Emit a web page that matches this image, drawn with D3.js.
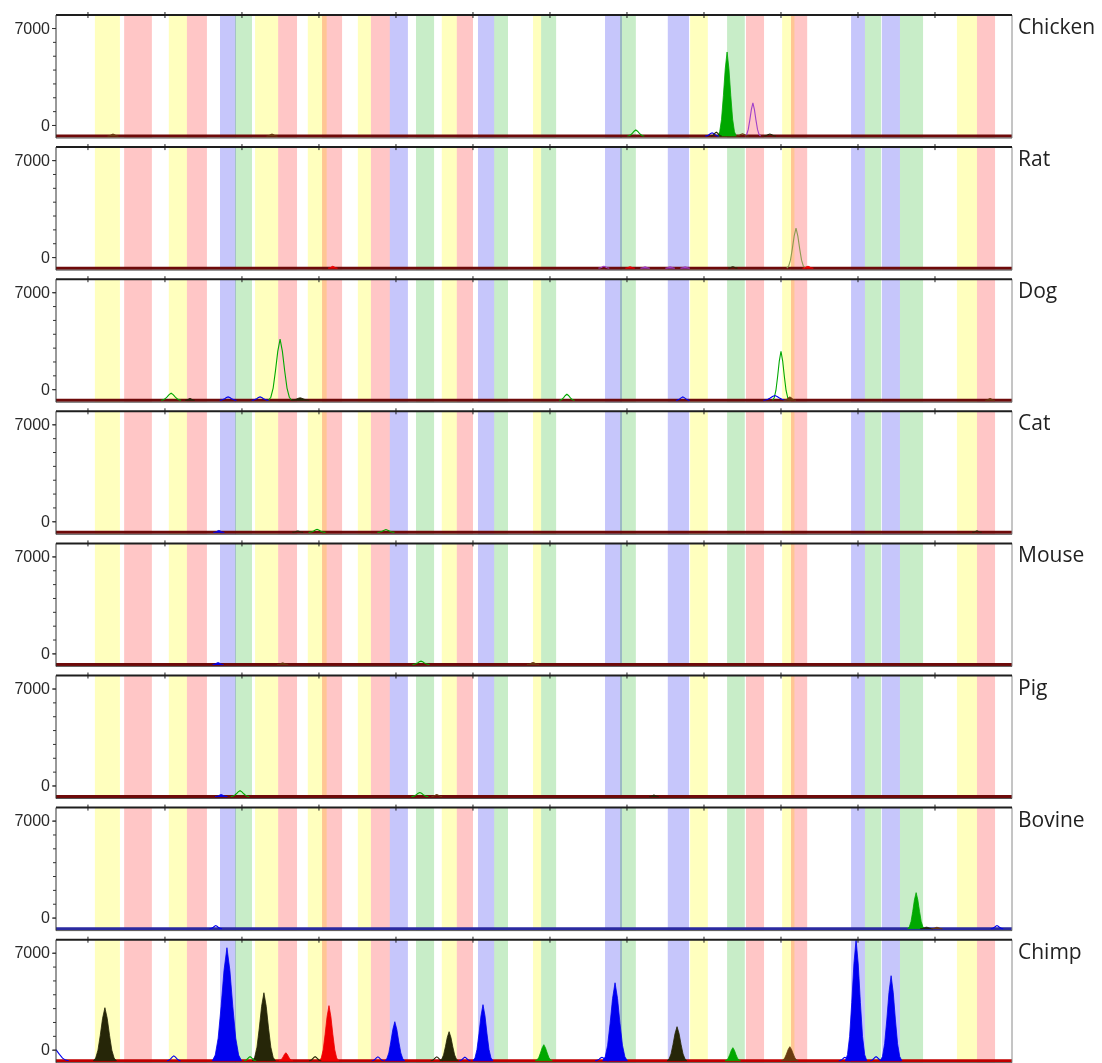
<!DOCTYPE html>
<html>
<head>
<meta charset="utf-8">
<script src="https://cdn.jsdelivr.net/npm/d3@7"></script>
<style>
body { margin: 0; background: #fff; }
svg { display: block; }
</style>
</head>
<body>
<div id="chart"></div>
<script>
const width = 1102;
const height = 1063;
const marginLeft = 56;
const plotRight = 1012;
const firstTop = 15;
const panelStep = 132.1;
const panelHeight = 123;

const species = ["Chicken", "Rat", "Dog", "Cat", "Mouse", "Pig", "Bovine", "Chimp"];
const baselineColors = ["#6e0a0a", "#6e0a0a", "#6e0a0a", "#6e0a0a", "#6e0a0a", "#6e0a0a", "#2a2aa0", "#c00000"];
const sizeTicks = [100, 120, 140, 160, 180, 200, 220, 240, 260, 280, 300, 320];
const yTickLabels = [0, 7000];
const yMinorTicks = [0, 1000, 2000, 3000, 4000, 5000, 6000, 7000];
const signalBase = -800;

// marker bins (size units)
const binDye = ["Y", "R", "Y", "R", "B", "G", "Y", "R", "Y", "R", "Y", "R", "B", "G", "Y", "R", "B", "G",
    "Y", "G", "B", "G", "B", "Y", "G", "R", "Y", "R", "B", "G", "B", "G", "Y", "R"];
const binFrom = [101.8, 109.4, 121.0, 125.7, 134.3, 138.2, 143.4, 149.4, 157.1, 160.8, 170.1, 173.5, 178.4, 185.2,
    191.9, 195.8, 201.3, 205.5, 215.6, 217.7, 234.3, 238.2, 250.6, 256.4, 266.0, 270.9, 280.3, 282.6, 298.2, 301.8,
    306.2, 310.9, 325.7, 330.9];
const binTo = [108.3, 116.6, 125.7, 130.9, 138.4, 142.6, 149.4, 154.3, 162.0, 166.0, 173.5, 178.4, 183.1, 189.9,
    195.8, 200.0, 205.5, 209.1, 217.7, 221.6, 238.7, 242.3, 256.1, 261.0, 270.6, 275.6, 283.5, 286.8, 301.8, 306.0,
    310.9, 316.9, 330.9, 335.6];

// peaks: [dye, size, height (RFU), half width, filled]
const chickenPeaks = [
    ["green", 266.0, 5270, 2.4, 1], ["purple", 272.7, 1590, 2.0, 0], ["green", 242.3, -360, 2.2, 0],
    ["brown", 106.5, -650, 1.4, 1], ["brown", 147.8, -650, 1.4, 1], ["blue", 262.1, -560, 1.8, 0],
    ["black", 263.2, -520, 1.4, 0], ["brown", 270.0, -640, 1.6, 0], ["black", 277.1, -650, 1.6, 0]
];
const ratPeaks = [
    ["olive", 283.9, 2090, 2.4, 0], ["red", 163.6, -660, 1.2, 1], ["purple", 234.0, -660, 1.4, 0],
    ["red", 240.8, -690, 1.2, 1], ["purple", 244.7, -690, 1.2, 1], ["purple", 251.2, -690, 1.2, 1],
    ["purple", 255.1, -690, 1.2, 1], ["black", 267.5, -700, 1.2, 0], ["red", 287.0, -660, 1.4, 1]
];
const dogPeaks = [
    ["green", 149.9, 3610, 3.0, 0], ["green", 280.0, 2740, 2.2, 0], ["green", 121.6, -290, 2.6, 0],
    ["green", 224.4, -370, 2.0, 0], ["blue", 136.4, -560, 2.2, 0], ["blue", 144.7, -560, 2.2, 0],
    ["black", 155.1, -620, 2.4, 1], ["black", 126.5, -660, 1.2, 1], ["blue", 254.5, -560, 1.8, 0],
    ["blue", 278.4, -460, 3.0, 0], ["brown", 282.3, -560, 1.6, 1], ["brown", 334.3, -660, 1.2, 1]
];
const catPeaks = [
    ["blue", 134.0, -660, 1.4, 1], ["green", 159.5, -580, 2.2, 0], ["green", 177.4, -600, 2.2, 0],
    ["black", 154.5, -700, 1.4, 0], ["black", 330.9, -690, 1.2, 0]
];
const mousePeaks = [
    ["blue", 133.8, -660, 1.4, 1], ["brown", 150.6, -680, 1.4, 1], ["green", 186.5, -560, 2.2, 0],
    ["brown", 215.6, -650, 1.6, 1]
];
const pigPeaks = [
    ["green", 139.5, -380, 2.4, 0], ["blue", 134.6, -650, 1.6, 1], ["green", 186.2, -510, 2.2, 0],
    ["brown", 190.6, -660, 1.4, 0], ["black", 247.0, -680, 1.2, 1]
];
const bovinePeaks = [
    ["green", 315.1, 1800, 2.2, 1], ["blue", 133.2, -580, 1.6, 0], ["blue", 336.1, -580, 1.6, 0],
    ["black", 317.8, -690, 1.6, 1], ["brown", 320.5, -700, 1.4, 1]
];
const chimpPeaks = [
    ["blue", 91.0, 150, 4.0, 0], ["black", 104.4, 3030, 3.0, 1], ["blue", 136.1, 7360, 3.8, 1],
    ["black", 145.7, 4110, 3.0, 1], ["red", 151.4, -220, 1.8, 1], ["red", 162.6, 3180, 2.5, 1],
    ["blue", 179.7, 2020, 2.6, 1], ["black", 193.8, 1300, 2.4, 1], ["blue", 202.6, 3250, 2.6, 1],
    ["green", 218.4, 360, 2.2, 1], ["blue", 236.9, 4830, 3.2, 1], ["black", 253.0, 1660, 2.6, 1],
    ["green", 267.5, 144, 2.0, 1], ["brown", 282.3, 216, 2.2, 1], ["blue", 299.5, 7940, 2.8, 1],
    ["blue", 308.6, 5340, 2.8, 1], ["blue", 122.3, -450, 1.8, 0], ["green", 142.1, -500, 1.6, 0],
    ["black", 159.0, -500, 1.6, 0], ["blue", 175.3, -520, 1.6, 0], ["black", 190.6, -520, 1.6, 0],
    ["blue", 197.9, -540, 1.5, 0], ["blue", 233.5, -550, 1.8, 0], ["blue", 296.6, -550, 1.6, 0],
    ["blue", 304.7, -500, 1.6, 0]
];
const peaksBySpecies = [chickenPeaks, ratPeaks, dogPeaks, catPeaks, mousePeaks, pigPeaks, bovinePeaks, chimpPeaks];

// fraction of half width, fraction of height: the profile of one peak
const peakShape = [[-1, 0], [-0.8, 0.05], [-0.6, 0.2], [-0.4, 0.48], [-0.2, 0.8], [0, 1],
    [0.2, 0.8], [0.4, 0.48], [0.6, 0.2], [0.8, 0.05], [1, 0]];

const binColors = { Y: "#ffffbe", R: "#ffc6c6", B: "#c6c6fb", G: "#c8edc8" };
const dyeColors = {
    blue: "#0000f0", green: "#00a800", black: "#262608", red: "#f00000",
    purple: "#a040c8", brown: "#6a3a10", olive: "#8c9a50"
};

document.addEventListener("DOMContentLoaded", () => {
    const svg = d3.select("#chart")
        .append("svg")
        .attr("width", width)
        .attr("height", height)
        .style("font-family", "'Liberation Sans', Arial, sans-serif");

    svg.append("rect").attr("width", width).attr("height", height).attr("fill", "#fff");

    const xScale = d3.scaleLinear()
        .domain([91.7, 340])
        .range([marginLeft, plotRight]);

    const yScale = d3.scaleLinear()
        .domain([-940, 7940])
        .range([panelHeight, 0]);

    svg.append("defs").append("clipPath")
        .attr("id", "plotClip")
        .append("rect")
        .attr("x", marginLeft)
        .attr("y", 0)
        .attr("width", plotRight - marginLeft)
        .attr("height", panelHeight);

    const line = d3.line().x(d => xScale(d[0])).y(d => yScale(d[1]));
    const area = d3.area().x(d => xScale(d[0])).y0(yScale(signalBase)).y1(d => yScale(d[1]));

    const bins = binDye.map((dye, i) => ({ dye, from: binFrom[i], to: binTo[i] }));

    species.forEach((name, i) => {
        const g = svg.append("g")
            .attr("transform", `translate(0,${firstTop + i * panelStep})`);

        g.append("g")
            .selectAll("rect")
            .data(bins)
            .join("rect")
            .attr("x", d => xScale(d.from))
            .attr("width", d => xScale(d.to) - xScale(d.from))
            .attr("y", 0)
            .attr("height", panelHeight)
            .attr("fill", d => binColors[d.dye])
            .style("mix-blend-mode", "multiply");

        const traces = g.append("g").attr("clip-path", "url(#plotClip)");

        traces.append("line")
            .attr("x1", xScale.range()[0])
            .attr("x2", xScale.range()[1])
            .attr("y1", yScale(signalBase))
            .attr("y2", yScale(signalBase))
            .attr("stroke", baselineColors[i])
            .attr("stroke-width", 3);

        const peaks = peaksBySpecies[i].map(p => ({
            dye: p[0],
            filled: p[4] === 1,
            points: peakShape.map(s => [p[1] + s[0] * p[3], signalBase + s[1] * (p[2] - signalBase)])
        }));

        traces.selectAll("path.peak")
            .data(peaks)
            .join("path")
            .attr("class", "peak")
            .attr("d", d => d.filled ? area(d.points) : line(d.points))
            .attr("fill", d => d.filled ? dyeColors[d.dye] : "none")
            .attr("stroke", d => dyeColors[d.dye])
            .attr("stroke-width", d => d.filled ? 0.8 : 1.1);

        // frame
        g.append("line")
            .attr("x1", plotRight).attr("x2", plotRight)
            .attr("y1", 0).attr("y2", panelHeight)
            .attr("stroke", "#8a8a8a");

        g.append("line")
            .attr("x1", marginLeft).attr("x2", plotRight)
            .attr("y1", panelHeight).attr("y2", panelHeight)
            .attr("stroke", "#555")
            .attr("stroke-width", 1);

        g.append("line")
            .attr("x1", marginLeft).attr("x2", plotRight)
            .attr("y1", 0).attr("y2", 0)
            .attr("stroke", "#1e1e1e")
            .attr("stroke-width", 2);

        g.append("g")
            .selectAll("line")
            .data(sizeTicks)
            .join("line")
            .attr("x1", d => xScale(d)).attr("x2", d => xScale(d))
            .attr("y1", -3).attr("y2", 3)
            .attr("stroke", "#1e1e1e");

        const minorAxis = g.append("g")
            .attr("transform", `translate(${marginLeft},0)`)
            .call(d3.axisLeft(yScale).tickValues(yMinorTicks).tickSize(3).tickFormat(""));
        minorAxis.select(".domain").remove();
        minorAxis.selectAll(".tick line").attr("stroke", "#333");

        const axis = g.append("g")
            .attr("transform", `translate(${marginLeft},0)`)
            .call(d3.axisLeft(yScale).tickValues(yTickLabels).tickSize(4).tickPadding(2).tickFormat(d3.format("d")));
        axis.select(".domain")
            .attr("d", `M0,0V${panelHeight}`)
            .attr("stroke", "#333");
        axis.selectAll(".tick line").attr("stroke", "#333");
        axis.selectAll(".tick text")
            .attr("fill", "#2a2a2a")
            .style("font-size", "16px")
            .style("font-family", "'Liberation Sans', Arial, sans-serif");

        g.append("text")
            .attr("x", 1018)
            .attr("y", 19)
            .attr("fill", "#222")
            .style("font-family", "'Open Sans', sans-serif")
            .style("font-size", "21px")
            .text(name);
    });
});
</script>
</body>
</html>
